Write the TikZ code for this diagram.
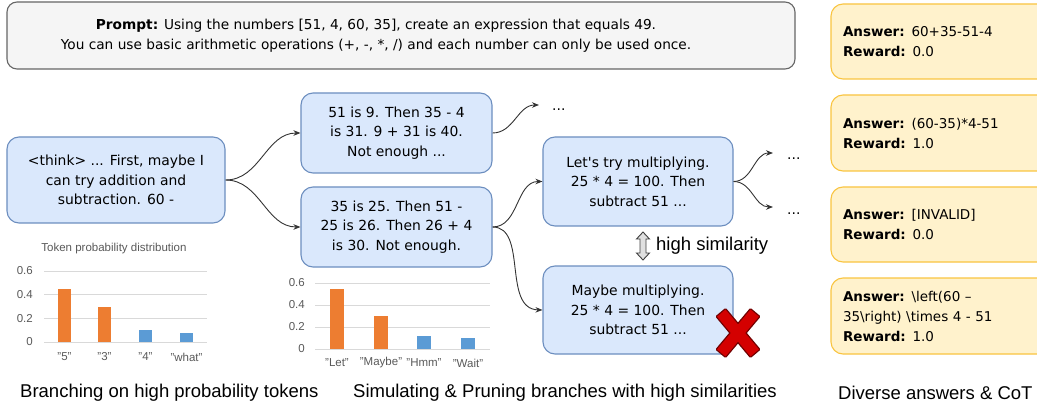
\documentclass[tikz,border=0pt]{standalone}
\usepackage{fontspec}
\setmainfont{Liberation Sans}
\newfontfamily\comicfont{DejaVu Sans}
\usepackage{xcolor}
\usepackage{tikz}
\usetikzlibrary{arrows.meta}
\definecolor{thoughtfill}{HTML}{DAE8FC}
\definecolor{thoughtline}{HTML}{6C8EBF}
\definecolor{answerfill}{HTML}{FFF2CC}
\definecolor{answerline}{HTML}{F9C440}
\definecolor{promptfill}{HTML}{F5F5F5}
\definecolor{promptline}{HTML}{666666}
\definecolor{barorange}{HTML}{ED7D31}
\definecolor{barblue}{HTML}{5B9BD5}
\definecolor{gridgray}{HTML}{D9D9D9}
\definecolor{axisgray}{HTML}{595959}
\definecolor{crossred}{HTML}{D40000}
\definecolor{crossdark}{HTML}{700000}

\begin{document}
\begin{tikzpicture}[x=1pt,y=-1pt,
  boxtext/.style={font=\comicfont\fontsize{13.9}{19.5}\selectfont},
  thoughtbox/.style={boxtext,draw=thoughtline,fill=thoughtfill,line width=1.1pt,
    rounded corners=12pt,align=center,inner sep=0pt},
  answerbox/.style={font=\comicfont\fontsize{13.5}{20}\selectfont,draw=answerline,fill=answerfill,line width=1.1pt,
    rounded corners=12pt,align=left,text width=196pt,inner xsep=12pt,inner ysep=0pt},
  link/.style={draw=black!80,line width=0.9pt,-{Stealth[length=7pt,width=5.5pt]}},
  dotsnode/.style={boxtext,anchor=base west,inner sep=0pt},
  grid/.style={draw=gridgray,line width=0.9pt},
  ticklabel/.style={text=axisgray,font=\fontsize{11.5}{13}\selectfont,anchor=east,inner sep=0pt},
  catlabel/.style={text=axisgray,font=\fontsize{11.5}{13}\selectfont,inner sep=0pt},
  caption/.style={font=\fontsize{18.5}{22}\selectfont,anchor=west,inner sep=0pt}]
  \useasboundingbox (0,0) rectangle (1037,409);
  \clip (0,0) rectangle (1037,409);

  % prompt
  \node[draw=promptline,fill=promptfill,line width=1.1pt,rounded corners=10pt,
    minimum width=788pt,minimum height=67pt] (prompt) at (401,35.5) {};
  \node[font=\comicfont\fontsize{13.7}{20}\selectfont,align=center] (prompttxt) at (376,35.5)
    {\textbf{Prompt:} Using the numbers [51, 4, 60, 35], create an expression that equals 49.\\
     You can use basic arithmetic operations (+, -, *, /) and each number can only be used once.};

  % reasoning tree
  \node[thoughtbox,minimum width=218pt,minimum height=86pt] (think) at (116,180)
    {<think> ... First, maybe I\\can try addition and\\subtraction. 60 -};
  \node[thoughtbox,minimum width=191pt,minimum height=80pt] (plus) at (396.5,133)
    {51 is 9. Then 35 - 4\\is 31. 9 + 31 is 40.\\Not enough ...};
  \node[thoughtbox,minimum width=191pt,minimum height=80pt] (minus) at (396.5,227)
    {35 is 25. Then 51 -\\25 is 26. Then 26 + 4\\is 30. Not enough.};
  \node[thoughtbox,minimum width=190pt,minimum height=89pt] (lets) at (638,181.5)
    {Let's try multiplying.\\25 * 4 = 100. Then\\subtract 51 ...};
  \node[thoughtbox,minimum width=190pt,minimum height=88pt] (maybe) at (638,310)
    {Maybe multiplying.\\25 * 4 = 100. Then\\subtract 51 ...};

  \node[dotsnode] (dotsA) at (552,111) {...};
  \node[dotsnode] (dotsB) at (787,159.5) {...};
  \node[dotsnode] (dotsC) at (787,214.5) {...};
  \coordinate (endA) at (539,105);
  \coordinate (endB) at (773,153);
  \coordinate (endC) at (773,207);

  \draw[link] (think.east) to[out=0,in=180] (plus.west);
  \draw[link] (think.east) to[out=0,in=180] (minus.west);
  \draw[link] (plus.east) to[out=0,in=180] (endA);
  \draw[link] (minus.east) to[out=0,in=180] (lets.west);
  \draw[link] (minus.east) .. controls (528,227) and (502,309) .. (maybe.west);
  \draw[link] (lets.east) to[out=0,in=180] (endB);
  \draw[link] (lets.east) to[out=0,in=180] (endC);

  % similarity marker
  \draw[fill=black!12,draw=black!75,line width=0.9pt]
    (643,232) -- (649.5,239) -- (646,239) -- (646,253) -- (649.5,253) -- (643,260)
    -- (636.5,253) -- (640,253) -- (640,239) -- (636.5,239) -- cycle;
  \node[font=\fontsize{18.5}{22}\selectfont,anchor=west,inner sep=0pt] (simtxt) at (656,246) {high similarity};

  % pruned cross
  \begin{scope}[shift={(738,333)}]
    \draw[crossdark,line width=2.6pt,line join=round] [rotate=50] (-26,-5.5) rectangle (26,5.5);
    \draw[crossdark,line width=2.6pt,line join=round] [rotate=-50] (-26,-5.5) rectangle (26,5.5);
    \fill[crossred] [rotate=50] (-26,-5.5) rectangle (26,5.5);
    \fill[crossred] [rotate=-50] (-26,-5.5) rectangle (26,5.5);
  \end{scope}

  % answers
  \node[answerbox,minimum height=75pt] (ans1) at (941,41.5)
    {\textbf{Answer:} 60+35-51-4\\\textbf{Reward:} 0.0};
  \node[answerbox,minimum height=76pt] (ans2) at (941,133)
    {\textbf{Answer:} (60-35)*4-51\\\textbf{Reward:} 1.0};
  \node[answerbox,minimum height=75pt] (ans3) at (941,224.5)
    {\textbf{Answer:} [INVALID]\\\textbf{Reward:} 0.0};
  \node[answerbox,minimum height=76pt] (ans4) at (941,316)
    {\textbf{Answer:} \textbackslash left(60 –\\35\textbackslash right) \textbackslash times 4 - 51\\\textbf{Reward:} 1.0};

  % chart 1
  \node[text=axisgray,font=\fontsize{11.5}{13}\selectfont,inner sep=0pt] (title1) at (114,249) {Token probability distribution};
  \draw[grid] (44,271) -- (207,271);
  \draw[grid] (44,294.7) -- (207,294.7);
  \draw[grid] (44,318.3) -- (207,318.3);
  \draw[grid] (44,342) -- (207,342);
  \node[ticklabel] (y1a) at (33,271) {0.6};
  \node[ticklabel] (y1b) at (33,294.7) {0.4};
  \node[ticklabel] (y1c) at (33,318.3) {0.2};
  \node[ticklabel] (y1d) at (33,342) {0};
  \fill[barorange] (58,342) rectangle (71,288.8);
  \fill[barorange] (98,342) rectangle (111,306.5);
  \fill[barblue] (139,342) rectangle (152,330.2);
  \fill[barblue] (180,342) rectangle (193,332.5);
  \node[catlabel] (c1a) at (64.5,357) {"5"};
  \node[catlabel] (c1b) at (104.5,357) {"3"};
  \node[catlabel] (c1c) at (145.5,357) {"4"};
  \node[catlabel] (c1d) at (186.5,357) {"what"};

  % chart 2
  \draw[grid] (315,283) -- (490,283);
  \draw[grid] (315,305) -- (490,305);
  \draw[grid] (315,327) -- (490,327);
  \draw[grid] (315,349) -- (490,349);
  \node[ticklabel] (y2a) at (305,283) {0.6};
  \node[ticklabel] (y2b) at (305,305) {0.4};
  \node[ticklabel] (y2c) at (305,327) {0.2};
  \node[ticklabel] (y2d) at (305,349) {0};
  \fill[barorange] (330,349) rectangle (344,288.5);
  \fill[barorange] (374,349) rectangle (388,316);
  \fill[barblue] (417,349) rectangle (431,335.8);
  \fill[barblue] (461,349) rectangle (475,338);
  \node[catlabel] (c2a) at (337,363) {"Let"};
  \node[catlabel] (c2b) at (381,363) {"Maybe"};
  \node[catlabel] (c2c) at (424,363) {"Hmm"};
  \node[catlabel] (c2d) at (468,363) {"Wait"};

  % captions
  \node[caption] (cap1) at (20,393) {Branching on high probability tokens};
  \node[caption] (cap2) at (353,393) {Simulating \& Pruning branches with high similarities};
  \node[caption] (cap3) at (838,393) {Diverse answers \& CoT};
\end{tikzpicture}
\end{document}
